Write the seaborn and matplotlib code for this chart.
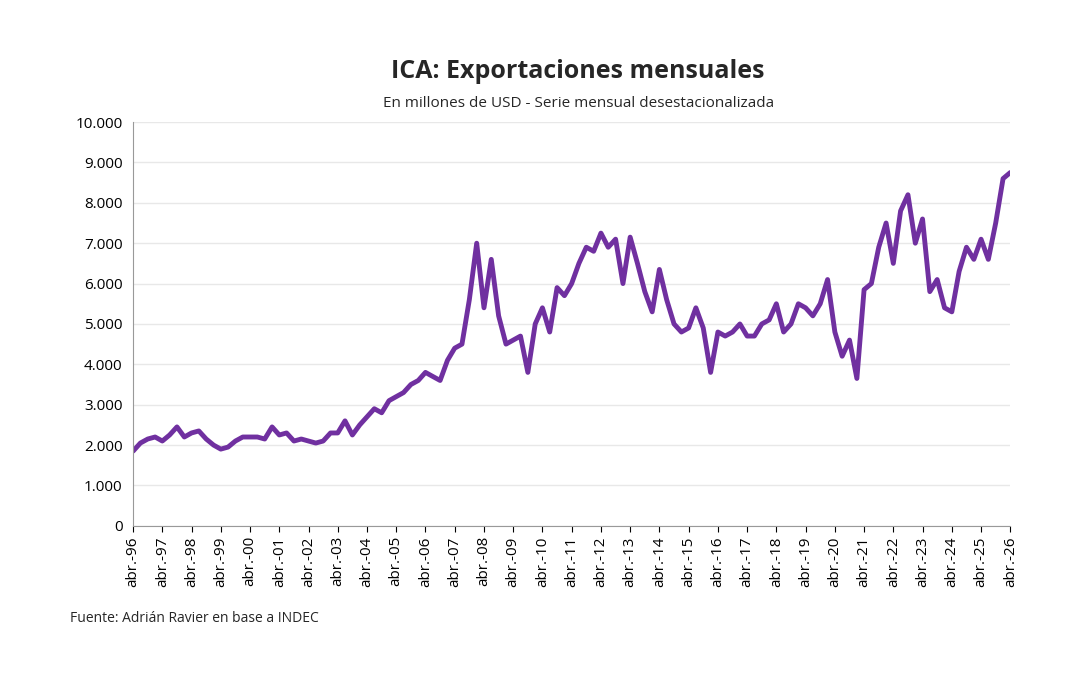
import matplotlib
matplotlib.use("Agg")
import matplotlib.pyplot as plt
import matplotlib.dates as mdates
from matplotlib.ticker import FuncFormatter
import seaborn as sns
import pandas as pd

# quarterly readings, abr-96 .. abr-26 (millones de USD); each row = abr-YY .. ene-YY+1
exports = [
    1850, 2050, 2150, 2200,   # 96
    2100, 2250, 2450, 2200,   # 97
    2300, 2350, 2150, 2000,   # 98
    1900, 1950, 2100, 2200,   # 99
    2200, 2200, 2150, 2450,   # 00
    2250, 2300, 2100, 2150,   # 01
    2100, 2050, 2100, 2300,   # 02
    2300, 2600, 2250, 2500,   # 03
    2700, 2900, 2800, 3100,   # 04
    3200, 3300, 3500, 3600,   # 05
    3800, 3700, 3600, 4100,   # 06
    4400, 4500, 5600, 7000,   # 07
    5400, 6600, 5200, 4500,   # 08
    4600, 4700, 3800, 5000,   # 09
    5400, 4800, 5900, 5700,   # 10
    6000, 6500, 6900, 6800,   # 11
    7250, 6900, 7100, 6000,   # 12
    7150, 6500, 5800, 5300,   # 13
    6350, 5600, 5000, 4800,   # 14
    4900, 5400, 4900, 3800,   # 15
    4800, 4700, 4800, 5000,   # 16
    4700, 4700, 5000, 5100,   # 17
    5500, 4800, 5000, 5500,   # 18
    5400, 5200, 5500, 6100,   # 19
    4800, 4200, 4600, 3650,   # 20
    5850, 6000, 6900, 7500,   # 21
    6500, 7800, 8200, 7000,   # 22
    7600, 5800, 6100, 5400,   # 23
    5300, 6300, 6900, 6600,   # 24
    7100, 6600, 7500, 8600,   # 25
    8750,
]
dates = pd.date_range("1996-04-01", periods=len(exports), freq="3MS")
df = pd.DataFrame({"fecha": dates, "valor": exports})

sns.set_style("white")
plt.rcParams["font.family"] = ["Open Sans", "DejaVu Sans"]

fig = plt.figure(figsize=(10.91, 6.82), dpi=100)
ax = fig.add_axes([0.122, 0.229, 0.804, 0.592])
sns.lineplot(data=df, x="fecha", y="valor", ax=ax, color="#7030A0", linewidth=3.5)

ax.set_ylim(0, 10000)
ax.set_yticks(range(0, 10001, 1000))
ax.yaxis.set_major_formatter(FuncFormatter(lambda v, p: f"{int(v):,}".replace(",", ".")))
ax.set_xlim(pd.Timestamp("1996-04-01"), pd.Timestamp("2026-04-01"))
ax.set_xticks(pd.date_range("1996-04-01", "2026-04-01", freq="12MS"))
ax.xaxis.set_major_formatter(mdates.DateFormatter("abr.-%y"))
plt.setp(ax.get_xticklabels(), rotation=90)
ax.tick_params(labelsize=11, length=4, colors="black", bottom=True, left=False)
ax.grid(axis="y", color="#e8e8e8", linewidth=1)
ax.set_xlabel("")
ax.set_ylabel("")
for s in ["top", "right"]:
    ax.spines[s].set_visible(False)
ax.spines["left"].set_color("#999999")
ax.spines["bottom"].set_color("#999999")

fig.text(0.53, 0.885, "ICA: Exportaciones mensuales", ha="center", fontsize=18, fontweight="bold")
fig.text(0.53, 0.843, "En millones de USD - Serie mensual desestacionalizada", ha="center", fontsize=11)
fig.text(0.064, 0.088, "Fuente: Adrián Ravier en base a INDEC", fontsize=10)

fig.savefig("out.png", dpi=100)
